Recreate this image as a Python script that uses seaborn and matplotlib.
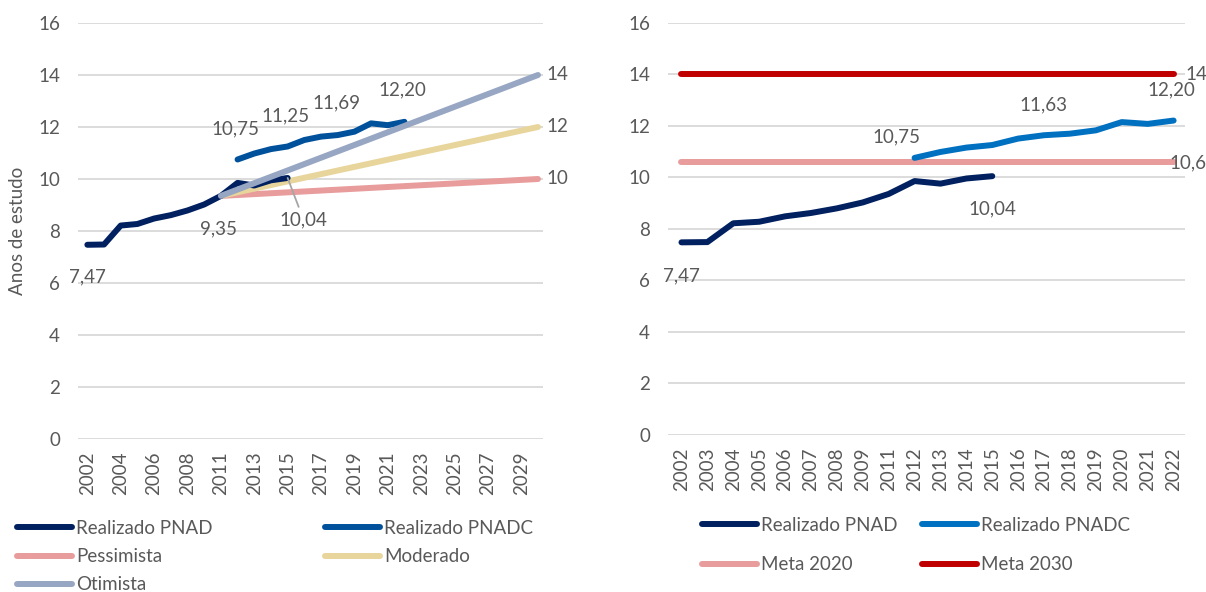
import matplotlib
matplotlib.use("Agg")
import matplotlib.pyplot as plt
import seaborn as sns
import pandas as pd

# ---------------- data ----------------
years_left = ['2002', '2003', '2004', '2005', '2006', '2007', '2008', '2009',
              '2011', '2012', '2013', '2014', '2015', '2016', '2017', '2018',
              '2019', '2020', '2021', '2022', '2023', '2024', '2025', '2026',
              '2027', '2028', '2029', '2030']
years_right = ['2002', '2003', '2004', '2005', '2006', '2007', '2008', '2009',
               '2011', '2012', '2013', '2014', '2015', '2016', '2017', '2018',
               '2019', '2020', '2021', '2022']

pnad_years = ['2002', '2003', '2004', '2005', '2006', '2007', '2008', '2009',
              '2011', '2012', '2013', '2014', '2015']
pnad_vals = [7.47, 7.48, 8.21, 8.27, 8.48, 8.61, 8.79, 9.02, 9.35, 9.85, 9.75, 9.95, 10.04]

pnadc_years = ['2012', '2013', '2014', '2015', '2016', '2017', '2018', '2019',
               '2020', '2021', '2022']
pnadc_vals = [10.75, 10.98, 11.15, 11.25, 11.50, 11.63, 11.69, 11.82, 12.14, 12.07, 12.20]

scen_years = ['2011', '2030']
pessimista = [9.35, 10.0]
moderado = [9.35, 12.0]
otimista = [9.35, 14.0]

meta_years = ['2002', '2022']
meta2020 = [10.6, 10.6]
meta2030 = [14.0, 14.0]

yticks = [0, 2, 4, 6, 8, 10, 12, 14, 16]

# ---------------- style ----------------
sns.set_theme(style="white")
plt.rcParams['font.family'] = ['Lato', 'DejaVu Sans']
TXT = '#595959'
FS = 13.5
C_PNAD = '#002060'
C_PNADC_L = '#00519C'
C_PNADC_R = '#0070C0'
C_PESS = '#E89C9C'
C_MOD = '#E8D59C'
C_OTI = '#97A6C2'
C_M20 = '#E89C9C'
C_M30 = '#C00000'
LW = 4.3

W, H = 1206, 592
fig = plt.figure(figsize=(W / 100, H / 100), dpi=100)


def ax_rect(x0, y0, x1, y1):
    return [x0 / W, 1 - y1 / H, (x1 - x0) / W, (y1 - y0) / H]


axL = fig.add_axes(ax_rect(78, 23, 543, 439))
axR = fig.add_axes(ax_rect(668, 22.7, 1185, 434.7))

posL = {y: i for i, y in enumerate(years_left)}
posR = {y: i for i, y in enumerate(years_right)}


def draw(ax, pos, yrs, vals, color, label, z=2):
    df = pd.DataFrame({'x': [pos[y] for y in yrs], 'v': vals})
    sns.lineplot(data=df, x='x', y='v', ax=ax, color=color, linewidth=LW,
                 label=label, zorder=z, solid_capstyle='round',
                 solid_joinstyle='round')


# left chart
draw(axL, posL, scen_years, pessimista, C_PESS, 'Pessimista', 2)
draw(axL, posL, scen_years, moderado, C_MOD, 'Moderado', 3)
draw(axL, posL, pnad_years, pnad_vals, C_PNAD, 'Realizado PNAD', 4)
draw(axL, posL, pnadc_years, pnadc_vals, C_PNADC_L, 'Realizado PNADC', 4)
draw(axL, posL, scen_years, otimista, C_OTI, 'Otimista', 5)

# right chart
draw(axR, posR, meta_years, meta2020, C_M20, 'Meta 2020', 2)
draw(axR, posR, meta_years, meta2030, C_M30, 'Meta 2030', 2)
draw(axR, posR, pnad_years, pnad_vals, C_PNAD, 'Realizado PNAD', 4)
draw(axR, posR, pnadc_years, pnadc_vals, C_PNADC_R, 'Realizado PNADC', 4)

for ax, cats, step, xl in [(axL, years_left, 2, (-0.56, 27.3)),
                           (axR, years_right, 1, (-0.52, 19.44))]:
    ax.set_xlim(*xl)
    ax.set_ylim(0, 16)
    ax.set_yticks(yticks)
    ax.set_yticklabels([str(t) for t in yticks])
    ticks = list(range(0, len(cats), step))
    ax.set_xticks(ticks)
    ax.set_xticklabels([cats[i] for i in ticks], rotation=90)
    ax.tick_params(axis='both', length=0, labelcolor=TXT, labelsize=FS)
    ax.tick_params(axis='y', pad=13)
    ax.tick_params(axis='x', pad=9)
    ax.yaxis.grid(True, color='#D9D9D9', linewidth=1.3, zorder=0)
    ax.xaxis.grid(False)
    ax.set_axisbelow(True)
    for s in ax.spines.values():
        s.set_visible(False)
    ax.set_xlabel('')
    ax.set_ylabel('')
    lg = ax.get_legend()
    if lg is not None:
        lg.remove()

axL.set_ylabel('Anos de estudo', color=TXT, fontsize=FS)
axL.yaxis.set_label_coords(-0.112, 0.5)


def fmt(v):
    return f"{v:.2f}".replace('.', ',')


def lab(ax, pos, yr, v, text, dx, dy, ha='center', **kw):
    ax.annotate(text, xy=(pos[yr], v), xytext=(dx, dy), textcoords='offset pixels',
                ha=ha, va='center', color=TXT, fontsize=FS, zorder=10, **kw)


# left labels
lab(axL, posL, '2002', pnad_vals[0], fmt(pnad_vals[0]), 0, -32)
lab(axL, posL, '2011', pnad_vals[8], fmt(pnad_vals[8]), -2, -33)
lab(axL, posL, '2015', pnad_vals[12], fmt(pnad_vals[12]), 16, -42,
    arrowprops=dict(arrowstyle='-', color='#A6A6A6', lw=1.3, shrinkA=1, shrinkB=0))
lab(axL, posL, '2012', pnadc_vals[0], fmt(pnadc_vals[0]), -2, 31)
lab(axL, posL, '2015', pnadc_vals[3], fmt(pnadc_vals[3]), -2, 31)
lab(axL, posL, '2018', pnadc_vals[6], fmt(pnadc_vals[6]), -1, 32)
lab(axL, posL, '2022', pnadc_vals[10], fmt(pnadc_vals[10]), -2, 32)
lab(axL, posL, '2030', otimista[-1], f"{otimista[-1]:g}", 8, 0, ha='left')
lab(axL, posL, '2030', moderado[-1], f"{moderado[-1]:g}", 8, 0, ha='left')
lab(axL, posL, '2030', pessimista[-1], f"{pessimista[-1]:g}", 8, 0, ha='left')

# right labels
lab(axR, posR, '2002', pnad_vals[0], fmt(pnad_vals[0]), 0, -34)
lab(axR, posR, '2015', pnad_vals[12], fmt(pnad_vals[12]), 0, -33)
lab(axR, posR, '2012', pnadc_vals[0], fmt(pnadc_vals[0]), -18, 21)
lab(axR, posR, '2017', pnadc_vals[5], fmt(pnadc_vals[5]), -1, 30)
lab(axR, posR, '2022', pnadc_vals[10], fmt(pnadc_vals[10]), -2, 31)
lab(axR, posR, '2022', meta2030[-1], f"{meta2030[-1]:g}", 12, 0, ha='left')
lab(axR, posR, '2022', meta2020[-1], f"{meta2020[-1]:g}".replace('.', ','), -4, -1, ha='left')

# legends
hL, lL = axL.get_legend_handles_labels()
dL = dict(zip(lL, hL))
orderL = ['Realizado PNAD', 'Pessimista', 'Otimista', 'Realizado PNADC', 'Moderado']
fig.legend([dL[k] for k in orderL], orderL, loc='upper left',
           bbox_to_anchor=(17 / W, 1 - 520 / H), ncol=2, frameon=False,
           fontsize=FS, labelcolor=TXT, handlelength=2.93, handletextpad=0.22,
           columnspacing=6.0, labelspacing=0.6, borderpad=0, borderaxespad=0)

hR, lR = axR.get_legend_handles_labels()
dR = dict(zip(lR, hR))
orderR = ['Realizado PNAD', 'Meta 2020', 'Realizado PNADC', 'Meta 2030']
fig.legend([dR[k] for k in orderR], orderR, loc='upper left',
           bbox_to_anchor=(702 / W, 1 - 517 / H), ncol=2, frameon=False,
           fontsize=FS, labelcolor=TXT, handlelength=2.93, handletextpad=0.22,
           columnspacing=1.28, labelspacing=1.2, borderpad=0, borderaxespad=0)

fig.savefig('out.png', dpi=100, facecolor='white')
